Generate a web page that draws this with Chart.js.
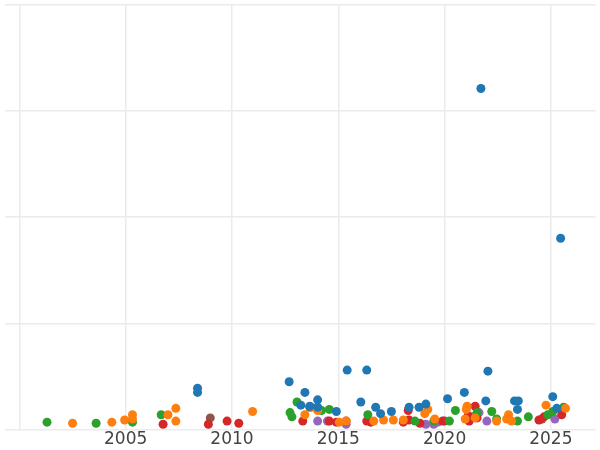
<!DOCTYPE html><html><head><script src="https://cdn.jsdelivr.net/npm/chart.js@4"></script>
<style>html,body{margin:0;background:#fff}#w{width:600px;height:450px}</style></head><body><div id="w"><canvas id="c"></canvas></div>
<script>
const blueX=[2008.38,2008.38,2012.69,2013.43,2013.24,2013.66,2014.03,2014.03,2014.91,2015.42,2016.34,2016.06,2016.76,2016.99,2017.5,2018.33,2018.8,2019.12,2020.14,2020.93,2021.94,2022.04,2023.29,2023.47,2023.43,2025.09,2025.28,2025.46,2021.71];
const blueY=[.39,.35,.45,.35,.23,.22,.28,.21,.17,.56,.56,.26,.21,.15,.17,.21,.21,.24,.29,.35,.27,.55,.27,.27,.19,.31,.20,1.80,3.21];
const orangeX=[2002.5,2004.35,2004.95,2005.32,2005.32,2006.99,2007.36,2007.36,2010.97,2013.43,2013.75,2014.03,2015.05,2015.37,2016.67,2017.13,2017.59,2018.06,2019.21,2019.07,2019.54,2021.06,2021.02,2020.97,2021.44,2022.45,2023.01,2022.92,2023.15,2024.77,2025.69];
const orangeY=[.06,.07,.09,.14,.10,.14,.20,.08,.17,.14,.21,.18,.07,.08,.08,.09,.09,.09,.19,.15,.10,.22,.19,.10,.11,.08,.14,.10,.08,.23,.20];
const greenX=[2001.3,2003.61,2005.32,2006.67,2012.73,2012.82,2013.06,2013.66,2014.21,2014.58,2016.39,2018.61,2019.49,2020.23,2020.51,2021.53,2022.22,2022.45,2023.43,2023.94,2024.86,2025.09,2025.6];
const greenY=[.07,.06,.07,.14,.16,.12,.26,.21,.18,.19,.14,.08,.08,.08,.18,.16,.17,.10,.08,.12,.14,.17,.21];
const redX=[2006.76,2008.89,2009.77,2010.32,2013.33,2014.58,2014.91,2015.37,2016.34,2016.53,2018.06,2018.29,2018.33,2018.84,2019.91,2021.16,2021.44,2021.11,2021.53,2024.44,2024.68,2025.51];
const redY=[.05,.05,.08,.06,.08,.08,.07,.08,.08,.07,.07,.18,.09,.06,.08,.08,.22,.13,.11,.09,.12,.14];
const purpleX=[2014.03,2014.49,2015.37,2019.12,2019.49,2019.68,2021.34,2021.62,2021.99,2025.19];
const purpleY=[.08,.08,.05,.05,.05,.07,.12,.16,.08,.10];
const brownX=[2008.98,2020.0,2024.58];
const brownY=[.11,.08,.10];
const xTicks=[2005,2010,2015,2020,2025];
const mk=(xs,ys,c)=>({data:xs.map((x,i)=>({x,y:ys[i]})),backgroundColor:c,borderColor:c,pointRadius:4.5,pointHoverRadius:4.5,borderWidth:0});
new Chart(document.getElementById('c'),{type:'scatter',data:{datasets:[
mk(blueX,blueY,'#1f77b4'),mk(orangeX,orangeY,'#ff7f0e'),mk(greenX,greenY,'#2ca02c'),mk(redX,redY,'#d62728'),mk(purpleX,purpleY,'#9467bd'),mk(brownX,brownY,'#8c564b')]},
options:{animation:false,responsive:true,maintainAspectRatio:false,layout:{padding:0},plugins:{legend:{display:false},tooltip:{enabled:false}},
scales:{x:{type:'linear',min:1999.3,max:2027.1,afterBuildTicks:a=>{a.ticks=[2000,...xTicks].map(v=>({value:v}));},
ticks:{font:{family:'DejaVu Sans',size:17},color:'#444',padding:0,callback:v=>v===2000?'':v,maxRotation:0},grid:{color:'#ebebeb',lineWidth:1.5,drawTicks:false},border:{display:false}},
y:{min:0,max:4,ticks:{display:false,stepSize:1},grid:{color:'#ebebeb',lineWidth:1.5,drawTicks:false},border:{display:false}}}}});
</script></body></html>
